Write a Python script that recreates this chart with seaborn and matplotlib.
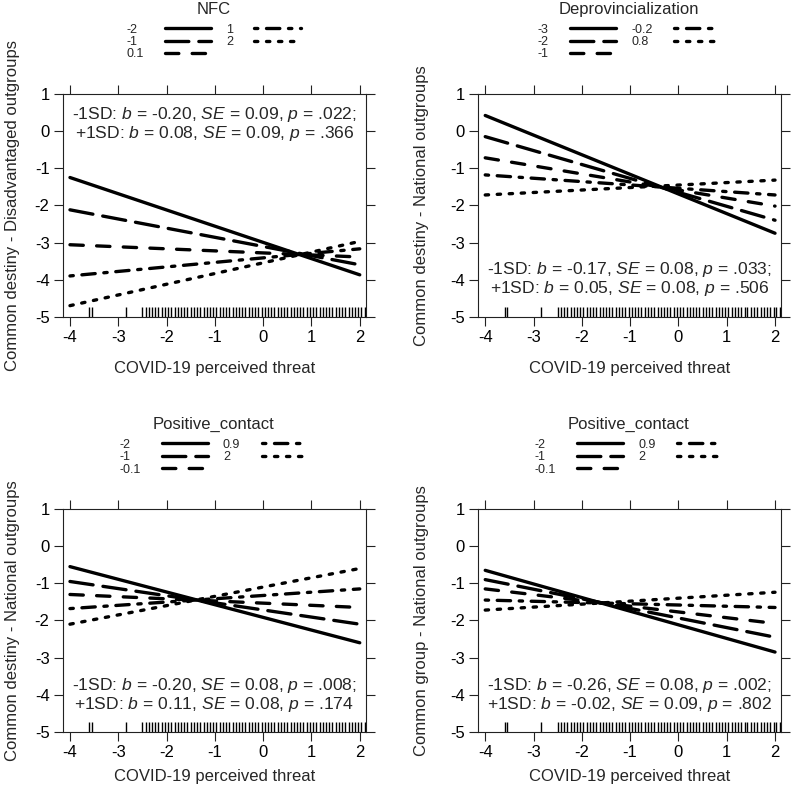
import numpy as np
import pandas as pd
import seaborn as sns
import matplotlib.pyplot as plt
from matplotlib.lines import Line2D

# x range of the predicted lines
x_ends = [-4, 2]

# panel 1: NFC moderator
nfc_levels = ["-2", "-1", "0.1", "1", "2"]
nfc_start = [-1.25, -2.12, -3.06, -3.90, -4.70]
nfc_end = [-3.87, -3.60, -3.39, -3.17, -2.97]

# panel 2: Deprovincialization moderator
dep_levels = ["-3", "-2", "-1", "-0.2", "0.8"]
dep_start = [0.42, -0.15, -0.72, -1.18, -1.72]
dep_end = [-2.75, -2.40, -2.02, -1.72, -1.32]

# panel 3: Positive_contact -> common destiny national
pc1_levels = ["-2", "-1", "-0.1", "0.9", "2"]
pc1_start = [-0.55, -0.95, -1.30, -1.68, -2.10]
pc1_end = [-2.60, -2.10, -1.65, -1.15, -0.60]

# panel 4: Positive_contact -> common group national
pc2_levels = ["-2", "-1", "-0.1", "0.9", "2"]
pc2_start = [-0.65, -0.90, -1.15, -1.45, -1.72]
pc2_end = [-2.85, -2.45, -2.08, -1.65, -1.24]

# observed threat values (rug)
threat_obs = [-3.60, -3.55, -2.85,
              -2.50, -2.43, -2.37, -2.30, -2.23, -2.17, -2.10, -2.03, -1.97, -1.90,
              -1.83, -1.77, -1.70, -1.63, -1.57, -1.50, -1.43, -1.37, -1.30, -1.23,
              -1.17, -1.10, -1.03, -0.97, -0.90, -0.83, -0.77, -0.70, -0.63, -0.57,
              -0.50, -0.43, -0.37, -0.30, -0.23, -0.17, -0.10, -0.03, 0.03, 0.10,
              0.17, 0.23, 0.30, 0.37, 0.43, 0.50, 0.57, 0.63, 0.70, 0.77, 0.83,
              0.90, 0.97, 1.03, 1.10, 1.17, 1.23, 1.30, 1.37, 1.43, 1.50, 1.57,
              1.63, 1.70, 1.77, 1.83, 1.90, 1.97, 2.03, 2.10]

titles = ["NFC", "Deprovincialization", "Positive_contact", "Positive_contact"]
ylabels = ["Common destiny - Disadvantaged outgroups",
           "Common destiny - National outgroups",
           "Common destiny - National outgroups",
           "Common group - National outgroups"]
notes = [
    ("-1SD: $b$ = -0.20, $SE$ = 0.09, $p$ = .022;", "+1SD: $b$ = 0.08, $SE$ = 0.09, $p$ = .366"),
    ("-1SD: $b$ = -0.17, $SE$ = 0.08, $p$ = .033;", "+1SD: $b$ = 0.05, $SE$ = 0.08, $p$ = .506"),
    ("-1SD: $b$ = -0.20, $SE$ = 0.08, $p$ = .008;", "+1SD: $b$ = 0.11, $SE$ = 0.08, $p$ = .174"),
    ("-1SD: $b$ = -0.26, $SE$ = 0.08, $p$ = .002;", "+1SD: $b$ = -0.02, $SE$ = 0.09, $p$ = .802"),
]
note_y = [0.20, -3.98, -4.0, -4.0]

panels = [(nfc_levels, nfc_start, nfc_end),
          (dep_levels, dep_start, dep_end),
          (pc1_levels, pc1_start, pc1_end),
          (pc2_levels, pc2_start, pc2_end)]

sns.set_style("ticks")
plt.rcParams["font.family"] = ["Liberation Sans", "DejaVu Sans"]
plt.rcParams["mathtext.fontset"] = "custom"
plt.rcParams["mathtext.rm"] = "Liberation Sans"
plt.rcParams["mathtext.it"] = "Liberation Sans:italic"
plt.rcParams["axes.unicode_minus"] = False
plt.rcParams["axes.edgecolor"] = "#222222"
plt.rcParams["axes.linewidth"] = 0.8

dash_styles = ["", (7, 3), (4, 4), (1, 2.6, 4, 2.6), (1, 2.6)]
lw = 2.4
leg_fs = 9
text_pad = 1.7

fig = plt.figure(figsize=(7.94, 7.96), dpi=100)
ax_pos = [[0.079, 0.602, 0.382, 0.280],
          [0.602, 0.602, 0.382, 0.280],
          [0.079, 0.0805, 0.382, 0.280],
          [0.602, 0.0805, 0.382, 0.280]]
xlab_y = [-0.20, -0.20, -0.165, -0.165]
ylab_x = [-0.142, -0.162, -0.142, -0.162]

legends = []
for i, (levels, y0, y1) in enumerate(panels):
    ax = fig.add_axes(ax_pos[i])
    df = pd.DataFrame({
        "threat": np.repeat([x_ends], len(levels), axis=0).ravel(),
        "outcome": np.column_stack([y0, y1]).ravel(),
        "level": np.repeat(levels, 2),
    })
    sns.lineplot(data=df, x="threat", y="outcome", style="level", style_order=levels,
                 dashes=dict(zip(levels, dash_styles)), color="black", lw=lw,
                 legend=False, ax=ax)
    for ln in ax.get_lines():
        ln.set_dash_capstyle("round")
        ln.set_solid_capstyle("round")
    sns.rugplot(x=threat_obs, height=0.045, color="black", lw=0.8, ax=ax)

    ax.set_xlim(-4.15, 2.13)
    ax.set_ylim(-5, 1)
    ax.set_xticks(range(-4, 3))
    ax.set_yticks(range(-5, 2))
    ax.tick_params(direction="out", length=6.5, width=0.8, labelsize=12,
                   top=True, right=True, labeltop=False, labelright=False,
                   colors="#222222", labelcolor="black", pad=3)
    for s in ax.spines.values():
        s.set_visible(True)
    ax.set_xlabel("COVID-19 perceived threat", fontsize=12)
    ax.set_ylabel(ylabels[i], fontsize=12)
    ax.xaxis.set_label_coords(0.5, xlab_y[i])
    ax.yaxis.set_label_coords(ylab_x[i], 0.5)

    # simple slopes at -1SD / +1SD
    ax.text(0.5, note_y[i], "\n".join(notes[i]), ha="center", va="center",
            fontsize=12.6, linespacing=1.0, transform=ax.get_yaxis_transform())

    handles = [Line2D([], [], color="black", lw=lw,
                      linestyle="-" if d == "" else (0, d),
                      dash_capstyle="round", solid_capstyle="round")
               for d in dash_styles]
    leg = ax.legend(handles, levels, ncol=2, title=titles[i], loc="lower center",
                    bbox_to_anchor=(0.497, 1.122), frameon=False, markerfirst=False,
                    fontsize=leg_fs, title_fontsize=12, handlelength=3.7,
                    labelspacing=0.03, columnspacing=1.2, handletextpad=text_pad,
                    borderpad=0)
    leg._legend_box.sep = 5
    legends.append(leg)

# left-align legend labels (labels sit before their line keys)
fig.canvas.draw()
renderer = fig.canvas.get_renderer()
for leg in legends:
    for col in leg._legend_handle_box.get_children():
        items = col.get_children()
        widths = [it.get_children()[0]._text.get_window_extent(renderer).width for it in items]
        wmax = max(widths)
        for it, w in zip(items, widths):
            it.sep = text_pad * leg_fs + (wmax - w) * 72 / fig.dpi

fig.savefig("out.png", dpi=100)
